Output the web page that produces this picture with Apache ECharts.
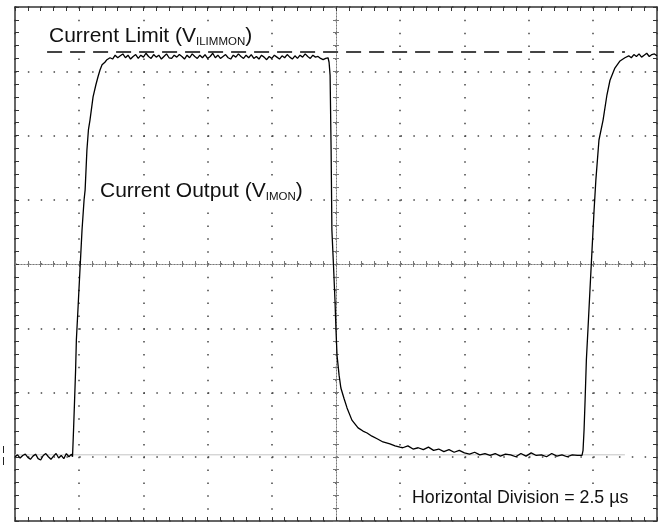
<!DOCTYPE html>
<html>
<head>
<meta charset="utf-8">
<script src="https://cdn.jsdelivr.net/npm/echarts@6/dist/echarts.min.js"></script>
<style>
html,body{margin:0;padding:0;background:#fff;}
#chart{width:672px;height:522px;}
</style>
</head>
<body>
<div id="chart"></div>
<script>
// Time in µs relative to screen centre (2.5 µs / division); amplitude in divisions
const xRange = [-12.5, 12.5];
const xStep = 2.5;
const yRange = [-4, 4];
const yStep = 1;

const traceT = [
  -12.5,-12.4,-12.3,-12.2,-12.1,-12.0,-11.9,-11.8,-11.7,-11.6,-11.5,-11.4,-11.3,-11.2,-11.1,-11.0,-10.9,-10.8,-10.7,-10.6,-10.5,-10.4,-10.3,
  -10.26,-10.22,-10.18,-10.14,-10.11,-10.05,-10.01,-9.97,-9.93,-9.89,-9.81,-9.77,-9.70,-9.64,-9.58,-9.46,-9.35,-9.27,-9.19,-9.11,-9.00,-8.92,-8.80,
  -8.7,-8.6,-8.5,-8.4,-8.3,-8.2,-8.1,-8.0,-7.9,-7.8,-7.7,-7.6,-7.5,-7.4,-7.3,-7.2,-7.1,-7.0,-6.9,-6.8,-6.7,-6.6,-6.5,-6.4,-6.3,-6.2,-6.1,-6.0,
  -5.9,-5.8,-5.7,-5.6,-5.5,-5.4,-5.3,-5.2,-5.1,-5.0,-4.9,-4.8,-4.7,-4.6,-4.5,-4.4,-4.3,-4.2,-4.1,-4.0,-3.9,-3.8,-3.7,-3.6,-3.5,-3.4,-3.3,-3.2,
  -3.1,-3.0,-2.9,-2.8,-2.7,-2.6,-2.5,-2.4,-2.3,-2.2,-2.1,-2.0,-1.9,-1.8,-1.7,-1.6,-1.5,-1.4,-1.3,-1.2,-1.1,-1.0,-0.9,-0.8,-0.7,-0.6,-0.5,-0.4,
  -0.31,-0.27,-0.23,-0.19,-0.16,-0.10,-0.04,0.00,0.04,0.12,0.19,0.31,0.43,0.62,0.86,1.05,1.21,1.40,1.60,1.83,2.10,2.30,2.49,
  2.6,2.8,3.0,3.2,3.4,3.6,3.8,4.0,4.2,4.4,4.6,4.8,5.0,5.2,5.4,5.6,5.8,6.0,6.2,6.4,6.6,6.8,7.0,7.2,7.4,7.6,7.8,8.0,8.2,8.4,8.6,8.8,9.0,9.2,9.4,
  9.58,9.62,9.66,9.70,9.75,9.81,9.89,9.97,10.05,10.12,10.24,10.40,10.55,10.67,10.86,11.06,11.25,
  11.4,11.5,11.6,11.7,11.8,11.9,12.0,12.1,12.2,12.3,12.4,12.5
];
const traceV = [
  -3.00,-2.97,-3.02,-2.98,-2.96,-3.01,-3.04,-2.99,-2.96,-3.03,-3.05,-2.98,-2.95,-3.00,-3.04,-2.99,-2.95,-3.02,-2.98,-3.03,-2.95,-3.00,-2.96,
  -3.00,-2.58,-2.12,-1.65,-1.18,-0.72,-0.40,-0.09,0.22,0.53,1.00,1.15,1.77,2.09,2.24,2.60,2.79,2.91,3.02,3.10,3.14,3.18,3.21,
  3.19,3.25,3.21,3.24,3.27,3.21,3.25,3.19,3.23,3.26,3.20,3.25,3.22,3.28,3.23,3.20,3.26,3.22,3.25,3.19,3.23,3.27,3.21,3.20,3.25,3.22,3.26,3.23,
  3.19,3.25,3.21,3.27,3.23,3.20,3.25,3.21,3.26,3.20,3.23,3.28,3.21,3.25,3.20,3.23,3.26,3.21,3.19,3.25,3.22,3.27,3.23,3.20,3.25,3.21,3.26,3.20,
  3.23,3.19,3.25,3.22,3.18,3.23,3.20,3.25,3.22,3.19,3.24,3.21,3.26,3.22,3.19,3.24,3.20,3.25,3.22,3.27,3.23,3.20,3.25,3.22,3.23,3.20,3.18,3.20,
  3.21,3.14,2.94,1.77,0.53,0.00,-0.56,-1.03,-1.42,-1.73,-1.93,-2.09,-2.24,-2.43,-2.55,-2.60,-2.63,-2.68,-2.72,-2.77,-2.80,-2.83,-2.85,
  -2.86,-2.83,-2.88,-2.86,-2.89,-2.85,-2.90,-2.88,-2.92,-2.89,-2.93,-2.90,-2.94,-2.96,-2.93,-2.97,-2.95,-2.98,-2.95,-2.99,-2.96,-2.97,-3.00,-2.95,-2.99,-2.94,-2.98,-2.97,-3.00,-2.95,-2.99,-2.97,-3.00,-2.97,-2.98,
  -2.98,-2.90,-2.58,-2.12,-1.49,-1.03,-0.40,0.22,0.84,1.31,1.93,2.24,2.63,2.86,3.05,3.16,3.21,
  3.24,3.21,3.26,3.23,3.27,3.22,3.25,3.28,3.23,3.26,3.27,3.24
];

// Current limit (dashed) and ground reference level
const limitT = [-11.25, 11.25];
const limitV = [3.30, 3.30];
const refT = [-12.5, 11.25];
const refV = [-2.97, -2.97];

const labelLimit = ['Current Limit (V', 'ILIMMON', ')'];
const labelOutput = ['Current Output (V', 'IMON', ')'];
const labelDivision = 'Horizontal Division = 2.5 µs';

const FONT = '"Liberation Sans", Arial, Helvetica, sans-serif';
const pair = (xs, ys) => xs.map((x, i) => [x, ys[i]]);

const dotLine = {type: [1.5, 11.35], color: '#444', width: 1.5};
const tickStyle = {color: '#333', width: 1};

function borderX(pos, split) {
  return {
    type: 'value', min: xRange[0], max: xRange[1], interval: xStep, position: pos,
    axisLine: {show: true, onZero: false, lineStyle: {color: '#333', width: 1.5}},
    axisTick: {show: true, inside: true, length: 4, lineStyle: tickStyle},
    minorTick: {show: true, splitNumber: 5, length: 4, lineStyle: tickStyle},
    axisLabel: {show: false},
    splitLine: {show: split, lineStyle: dotLine},
    minorSplitLine: {show: false}
  };
}
function borderY(pos, split) {
  return {
    type: 'value', min: yRange[0], max: yRange[1], interval: yStep, position: pos,
    axisLine: {show: true, onZero: false, lineStyle: {color: '#333', width: 1.5}},
    axisTick: {show: true, inside: true, length: 4, lineStyle: tickStyle},
    minorTick: {show: true, splitNumber: 5, length: 4, lineStyle: tickStyle},
    axisLabel: {show: false},
    splitLine: {show: split, lineStyle: dotLine},
    minorSplitLine: {show: false}
  };
}
function centerX(inside) {
  return {
    type: 'value', min: xRange[0], max: xRange[1], interval: xStep, position: 'bottom',
    axisLine: {show: true, onZero: true, onZeroAxisIndex: 0, lineStyle: {color: '#777', width: 1, type: [1, 2]}},
    axisTick: {show: true, inside: inside, length: 3, lineStyle: {color: '#777', width: 1}},
    minorTick: {show: true, splitNumber: 5, length: 3, lineStyle: {color: '#777', width: 1}},
    axisLabel: {show: false}, splitLine: {show: false}
  };
}
function centerY(inside) {
  return {
    type: 'value', min: yRange[0], max: yRange[1], interval: yStep, position: 'left',
    axisLine: {show: true, onZero: true, onZeroAxisIndex: 0, lineStyle: {color: '#777', width: 1, type: [1, 2]}},
    axisTick: {show: true, inside: inside, length: 3, lineStyle: {color: '#777', width: 1}},
    minorTick: {show: true, splitNumber: 5, length: 3, lineStyle: {color: '#777', width: 1}},
    axisLabel: {show: false}, splitLine: {show: false}
  };
}

const chart = echarts.init(document.getElementById('chart'), null, {renderer: 'canvas'});
chart.setOption({
  animation: false,
  backgroundColor: '#fff',
  grid: {left: 15, top: 7, width: 642, height: 514, containLabel: false, outerBoundsMode: 'none'},
  xAxis: [borderX('bottom', true), borderX('top', false), centerX(true), centerX(false)],
  yAxis: [borderY('left', true), borderY('right', false), centerY(true), centerY(false)],
  series: [
    {type: 'line', name: 'ref', data: pair(refT, refV), showSymbol: false, silent: true,
     lineStyle: {color: '#c4c4c4', width: 1}, z: 2},
    {type: 'line', name: 'limit', data: pair(limitT, limitV), showSymbol: false, silent: true,
     lineStyle: {color: '#444', width: 1.8, type: [15, 8]}, z: 3},
    {type: 'line', name: 'IMON', data: pair(traceT, traceV), showSymbol: false, silent: true,
     lineStyle: {color: '#000', width: 1.3}, z: 4}
  ],
  graphic: [
    {type: 'text', left: 49, top: 24, z: 10, style: {
      backgroundColor: '#fff',
      text: '{a|' + labelLimit[0] + '}{s|' + labelLimit[1] + '}{a|' + labelLimit[2] + '}',
      rich: {a: {fontFamily: FONT, fontSize: 21, lineHeight: 24, fill: '#111'},
             s: {fontFamily: FONT, fontSize: 11.5, lineHeight: 12, verticalAlign: 'bottom', fill: '#111'}}}},
    {type: 'text', left: 100, top: 179, z: 10, style: {
      backgroundColor: '#fff',
      text: '{a|' + labelOutput[0] + '}{s|' + labelOutput[1] + '}{a|' + labelOutput[2] + '}',
      rich: {a: {fontFamily: FONT, fontSize: 21, lineHeight: 24, fill: '#111'},
             s: {fontFamily: FONT, fontSize: 11.5, lineHeight: 12, verticalAlign: 'bottom', fill: '#111'}}}},
    {type: 'text', left: 412, top: 486, z: 10, style: {
      backgroundColor: '#fff',
      text: '{a|' + labelDivision + '}',
      rich: {a: {fontFamily: FONT, fontSize: 17.8, lineHeight: 24, fill: '#111'}}}},
    {type: 'line', z: 10, shape: {x1: 3.5, y1: 446, x2: 3.5, y2: 453}, style: {stroke: '#222', lineWidth: 1}},
    {type: 'line', z: 10, shape: {x1: 3.5, y1: 457, x2: 3.5, y2: 465}, style: {stroke: '#222', lineWidth: 1}}
  ]
});
</script>
</body>
</html>
